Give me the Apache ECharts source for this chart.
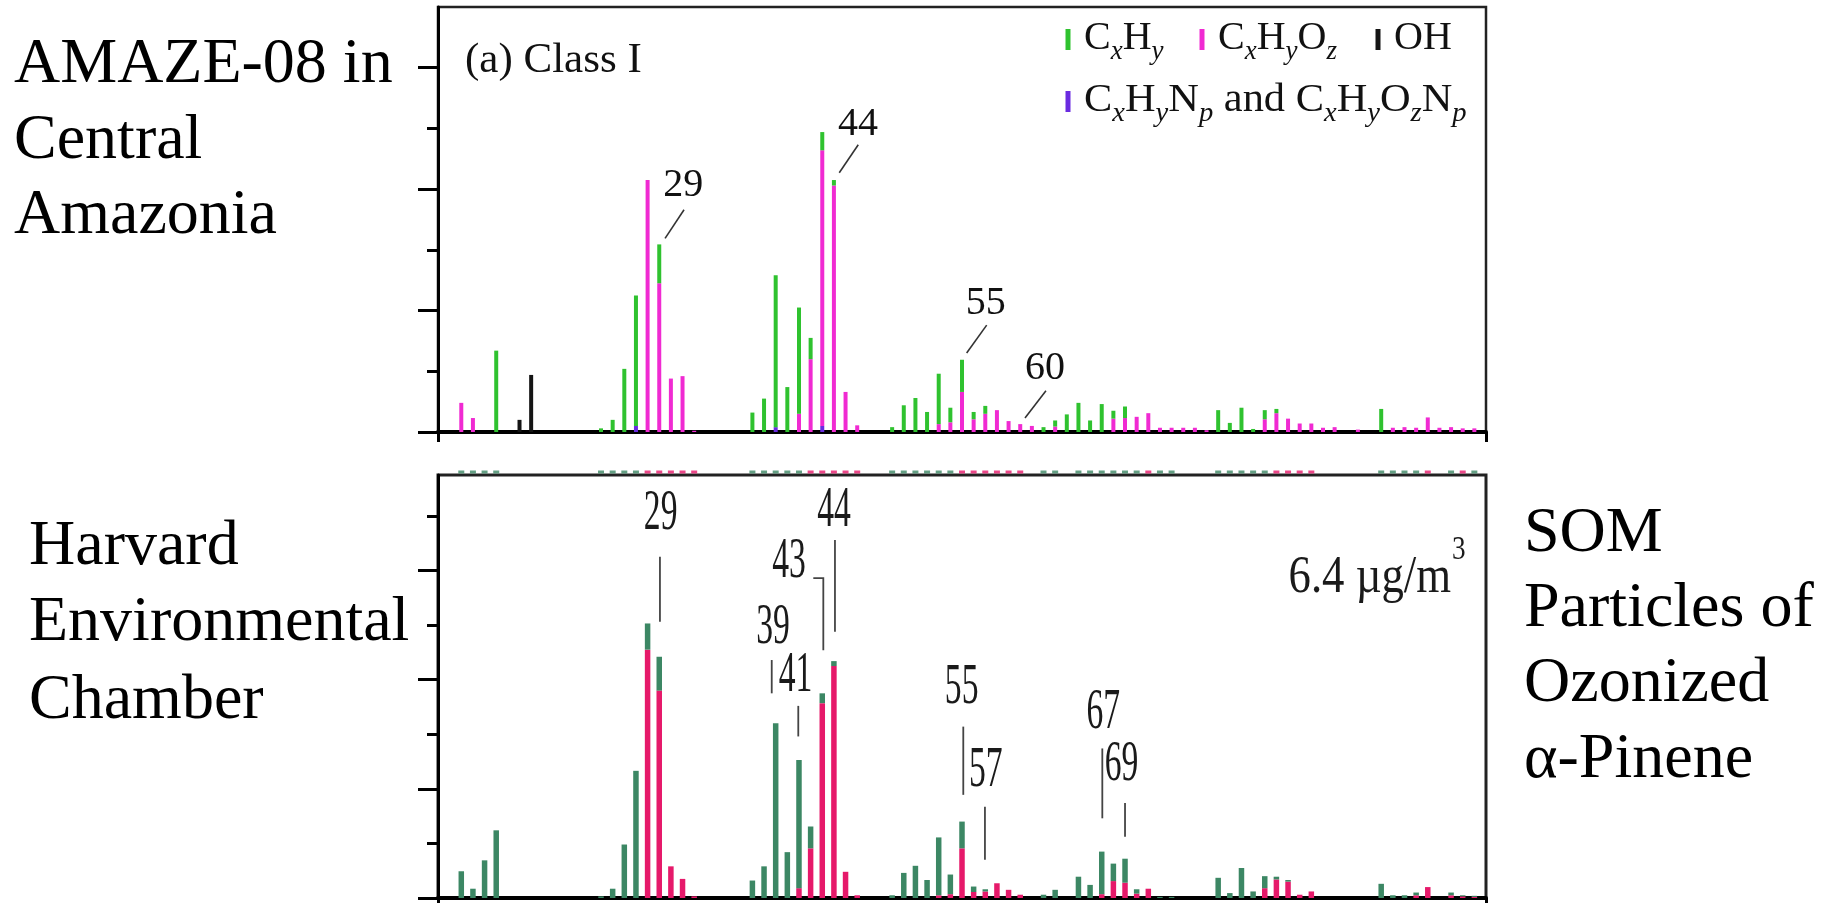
<!DOCTYPE html>
<html><head><meta charset="utf-8">
<script src="https://cdn.jsdelivr.net/npm/echarts@6/dist/echarts.min.js"></script>
<style>html,body{margin:0;padding:0;background:#fff}#c{width:1835px;height:903px}</style>
</head><body><div id="c"></div>
<script>
// ---- data (m/z 12..99) ----
const MZ = [12,13,14,15,16,17,18,19,20,21,22,23,24,25,26,27,28,29,30,31,32,33,34,35,36,37,38,39,40,41,42,43,44,45,46,47,48,49,50,51,52,53,54,55,56,57,58,59,60,61,62,63,64,65,66,67,68,69,70,71,72,73,74,75,76,77,78,79,80,81,82,83,84,85,86,87,88,89,90,91,92,93,94,95,96,97,98,99];

// (a) AMAZE-08, Class I
const topCH = [0,0,0,1.34,0,0,0,0,
 0,0,0,0,0.06,0.2,1.04,2.15,0,0.64,
 0,0,0,0,0,0,0,0.32,0.55,2.5,
 0.74,1.75,0.35,0.3,0.09,0,0,0,0,0.08,
 0.44,0.56,0.33,0.83,0.24,0.53,0.12,0.13,0,0,
 0,0,0.08,0.1,0.29,0.48,0.19,0.46,0.13,0.19,
 0,0,0,0,0,0,0,0.36,0.15,0.4,
 0.05,0.15,0.07,0,0,0,0,0,0,0,
 0,0.38,0,0,0,0,0,0,0,0];
const topCHO = [0.48,0.23,0,0,0,0,0,0,
 0,0,0,0,0,0,0,0,4.15,2.45,
 0.88,0.92,0.02,0,0,0,0,0,0,0,
 0,0.3,1.2,4.54,4.06,0.66,0.11,0,0,0,
 0,0,0,0.13,0.16,0.66,0.21,0.3,0.36,0.18,
 0.13,0.1,0,0.09,0,0,0,0,0.22,0.23,
 0.25,0.31,0.07,0.07,0.07,0.07,0.03,0,0,0,
 0,0.21,0.31,0.22,0.14,0.14,0.07,0.08,0,0.04,
 0,0,0.07,0.08,0.07,0.24,0.07,0.08,0.06,0.06];
const topOH = [0,0,0,0,0,0.2,0.94,0,
 0,0,0,0,0,0,0,0,0,0,
 0,0,0,0,0,0,0,0,0,0,
 0,0,0,0,0,0,0,0,0,0,
 0,0,0,0,0,0,0,0,0,0,
 0,0,0,0,0,0,0,0,0,0,
 0,0,0,0,0,0,0,0,0,0,
 0,0,0,0,0,0,0,0,0,0,
 0,0,0,0,0,0,0,0,0,0];
const topCHN = [0,0,0,0,0,0,0,0,
 0,0,0,0,0,0,0,0.1,0,0,
 0,0,0,0,0,0,0,0,0,0.08,
 0,0,0,0.1,0,0,0,0,0,0,
 0,0,0,0,0,0,0,0,0,0,
 0,0,0,0,0,0,0,0,0,0,
 0,0,0,0,0,0,0,0,0,0,
 0,0,0,0,0,0,0,0,0,0,
 0,0,0,0,0,0,0,0,0,0];

// Harvard Environmental Chamber, SOM of ozonized alpha-pinene
const botCH = [0.49,0.17,0.69,1.24,0,0,0,0,
 0,0,0,0,0.03,0.17,0.98,2.33,0.48,0.62,
 0,0,0,0,0,0,0,0.32,0.58,3.2,
 0.84,2.35,0.4,0.18,0.09,0,0,0,0,0.05,
 0.46,0.59,0.33,1.06,0.36,0.49,0.1,0.04,0,0,
 0,0,0.06,0.15,0,0.39,0.24,0.78,0.32,0.44,
 0.08,0,0.02,0.02,0,0,0,0.37,0.09,0.55,
 0.12,0.22,0.05,0.03,0,0,0,0,0,0,
 0,0.26,0.05,0.05,0.05,0,0,0.05,0.02,0.02];
const botCHO = [0,0,0,0,0,0,0,0,
 0,0,0,0,0,0,0,0,4.55,3.8,
 0.58,0.35,0.03,0,0,0,0,0,0,0,
 0,0.18,0.91,3.57,4.25,0.48,0.05,0,0,0,
 0,0,0,0.05,0.07,0.91,0.11,0.12,0.27,0.15,
 0.06,0,0,0,0,0,0,0.07,0.31,0.28,
 0.08,0.17,0,0,0,0,0,0,0,0,
 0,0.18,0.34,0.3,0.06,0.12,0,0,0,0,
 0,0,0,0,0.05,0.2,0,0.05,0.03,0.02];

// peak labels
const topPeakLabels = ['29','44','55','60'];
const botPeakLabels = ['29','44','43','39','41','55','57','67','69'];

// ---- styles / layout ----
const FONT = "'Liberation Serif','Times New Roman',Times,serif";
const C_GREEN = '#2fc22f', C_PINK = '#f02ad2', C_BLACK = '#141414', C_PURPLE = '#6a2be0';
const B_GREEN = '#3c8764', B_PINK = '#e6196a';
const X_MIN = 10, X_MAX = 100, TOP_MAX = 7, BOT_MAX = 7.75;

function stackRender(colors, w) {
  return function (params, api) {
    const m = api.value(0);
    let base = 0; const children = [];
    for (let k = 0; k < colors.length; k++) {
      const v = api.value(k + 1);
      if (v > 0) {
        const p0 = api.coord([m, base]);
        const p1 = api.coord([m, base + v]);
        children.push({type: 'rect', shape: {x: p0[0] - w / 2, y: p1[1], width: w, height: p0[1] - p1[1]}, style: {fill: colors[k]}});
        base += v;
      }
    }
    return {type: 'group', children};
  };
}

const topData = MZ.map((m, i) => [m, topCHN[i], topCHO[i], topCH[i], topOH[i]]);
const botData = MZ.map((m, i) => [m, botCHO[i], botCH[i]]);
const stripData = MZ.map((m, i) => ({value: [m, BOT_MAX], itemStyle: {color: botCHO[i] > botCH[i] ? B_PINK : B_GREEN}}))
  .filter((d, i) => botCH[i] + botCHO[i] > 0);

function xAx(g) {
  return {gridIndex: g, type: 'value', min: X_MIN, max: X_MAX,
    axisLine: {show: true, onZero: false, lineStyle: {color: '#000', width: 4}},
    axisTick: {show: true, customValues: [X_MIN, X_MAX], length: 10, inside: false, lineStyle: {color: '#000', width: 3}},
    axisLabel: {show: false}, splitLine: {show: false}};
}
function yAx(g, max, ticks, len, line) {
  return {gridIndex: g, type: 'value', min: 0, max: max, position: 'left',
    axisLine: {show: line, onZero: false, lineStyle: {color: '#000', width: 3}},
    axisTick: {show: true, customValues: ticks, length: len, inside: false, lineStyle: {color: '#000', width: 3}},
    axisLabel: {show: false}, splitLine: {show: false}};
}

const chart = echarts.init(document.getElementById('c'));
chart.setOption({
  animation: false,
  backgroundColor: '#fff',
  grid: [
    {left: 438, top: 7, width: 1048, height: 425, show: true, borderColor: '#222', borderWidth: 2.5},
    {left: 438, top: 475, width: 1048, height: 423, show: true, borderColor: '#222', borderWidth: 3}
  ],
  xAxis: [xAx(0), xAx(1)],
  yAxis: [
    yAx(0, TOP_MAX, [0, 2, 4, 6], 20, true),
    yAx(0, TOP_MAX, [1, 3, 5], 11, false),
    yAx(1, BOT_MAX, [0, 2, 4, 6], 20, true),
    yAx(1, BOT_MAX, [1, 3, 5, 7], 11, false)
  ],
  series: [
    {type: 'custom', xAxisIndex: 0, yAxisIndex: 0, silent: true, data: topData,
     encode: {x: 0, y: [1, 2, 3, 4]}, renderItem: stackRender([C_PURPLE, C_PINK, C_GREEN, C_BLACK], 4)},
    {type: 'custom', xAxisIndex: 1, yAxisIndex: 2, silent: true, data: botData,
     encode: {x: 0, y: [1, 2]}, renderItem: stackRender([B_PINK, B_GREEN], 5.5)},
    {type: 'scatter', xAxisIndex: 1, yAxisIndex: 2, silent: true, data: stripData, clip: false,
     symbol: 'rect', symbolSize: [6, 3], symbolOffset: [0, -3], z: 5}
  ]
});

// ---- annotations (data space -> pixels) ----
const topAnnot = [
  {at: [31.07, 4.06], line: [[31.13, 3.66], [29.50, 3.19]]},
  {at: [46.07, 5.07], line: [[46.09, 4.73], [44.46, 4.27]]},
  {at: [57.04, 2.12], line: [[57.12, 1.76], [55.40, 1.30]]},
  {at: [62.13, 1.05], line: [[62.21, 0.68], [60.41, 0.23]]}
];
const botAnnot = [
  {at: [29.12, 7.04], line: [[29.06, 6.25], [29.06, 5.06]]},
  {at: [44.01, 7.09], line: [[44.09, 6.56], [44.09, 4.88]]},
  {at: [40.14, 6.16], line: [[42.23, 5.86], [43.09, 5.86], [43.09, 4.54]]},
  {at: [38.77, 4.96], line: [[38.66, 4.36], [38.66, 3.75]]},
  {at: [40.70, 4.07], line: [[40.94, 3.52], [40.94, 2.96]]},
  {at: [54.97, 3.85], line: [[55.11, 3.14], [55.11, 1.89]]},
  {at: [57.04, 2.33], line: [[56.97, 1.67], [56.97, 0.70]]},
  {at: [67.13, 3.40], line: [[67.05, 2.74], [67.05, 1.46]]},
  {at: [68.70, 2.44], line: [[69.00, 1.74], [69.00, 1.12]]}
];
const TOPF = {xAxisIndex: 0, yAxisIndex: 0}, BOTF = {xAxisIndex: 1, yAxisIndex: 2};
const px = (f, p) => chart.convertToPixel(f, p);

const G = [];
function txt(x, y, text, size, opt) {
  opt = opt || {};
  G.push({type: 'text', x: x, y: y, scaleX: opt.sx || 1, scaleY: 1, z: 100, silent: true,
    style: {x: 0, y: 0, text: text, fontSize: size, fontFamily: FONT, fill: opt.fill || '#111',
      align: opt.align || 'left', textAlign: opt.align || 'left',
      verticalAlign: 'middle', textVerticalAlign: 'middle'}});
}
function poly(points, color, w) {
  G.push({type: 'polyline', z: 100, silent: true, shape: {points: points},
    style: {stroke: color, lineWidth: w, fill: null}});
}
topAnnot.forEach((a, i) => {
  const p = px(TOPF, a.at);
  txt(p[0], p[1], topPeakLabels[i], 40, {align: 'center'});
  poly(a.line.map(q => px(TOPF, q)), '#333', 1.6);
});
botAnnot.forEach((a, i) => {
  const p = px(BOTF, a.at);
  txt(p[0], p[1], botPeakLabels[i], 58, {align: 'center', sx: 0.58, fill: '#1a1a1a'});
  poly(a.line.map(q => px(BOTF, q)), '#444', 1.8);
});

// panel titles / notes
txt(465, 60.5, '(a) Class I', 43);
txt(1451, 596 - 0.3375 * 52, '6.4 µg/m', 52, {align: 'right', sx: 0.86, fill: '#1a1a1a'});
txt(1452, 550, '3', 34, {sx: 0.8, fill: '#1a1a1a'});

// legend
const RICH = {
  n: {fontSize: 40, fontFamily: FONT, lineHeight: 40, verticalAlign: 'top', fill: '#111'},
  s: {fontSize: 27, fontFamily: FONT, fontStyle: 'italic', lineHeight: 66, fill: '#111'}
};
function legItem(x, baseY, color, rich, sx) {
  G.push({type: 'rect', z: 100, silent: true, shape: {x: x - 2.5, y: baseY - 23, width: 5, height: 21}, style: {fill: color}});
  G.push({type: 'text', x: x + 16, y: baseY - 33.5, scaleX: sx || 1, z: 100, silent: true,
    style: {x: 0, y: 0, text: rich, rich: RICH, align: 'left', textAlign: 'left', verticalAlign: 'top', textVerticalAlign: 'top'}});
}
legItem(1068, 52, C_GREEN, '{n|C}{s|x}{n|H}{s|y}');
legItem(1202, 52, C_PINK, '{n|C}{s|x}{n|H}{s|y}{n|O}{s|z}');
legItem(1378, 52, C_BLACK, '{n|OH}');
legItem(1068, 114, C_PURPLE, '{n|C}{s|x}{n|H}{s|y}{n|N}{s|p}{n| and C}{s|x}{n|H}{s|y}{n|O}{s|z}{n|N}{s|p}', 1.06);

// side captions
const SIDE = 64;
[['AMAZE-08 in', 14, 87], ['Central', 14, 163], ['Amazonia', 14, 238],
 ['Harvard', 29, 569], ['Environmental', 29, 645], ['Chamber', 29, 723],
 ['SOM', 1524, 556], ['Particles of', 1524, 631], ['Ozonized', 1524, 706], ['α-Pinene', 1524, 782]]
 .forEach(r => txt(r[1], r[2] - 0.3375 * SIDE, r[0], SIDE, {fill: '#000'}));

chart.setOption({graphic: {elements: G}});
</script>
</body></html>
